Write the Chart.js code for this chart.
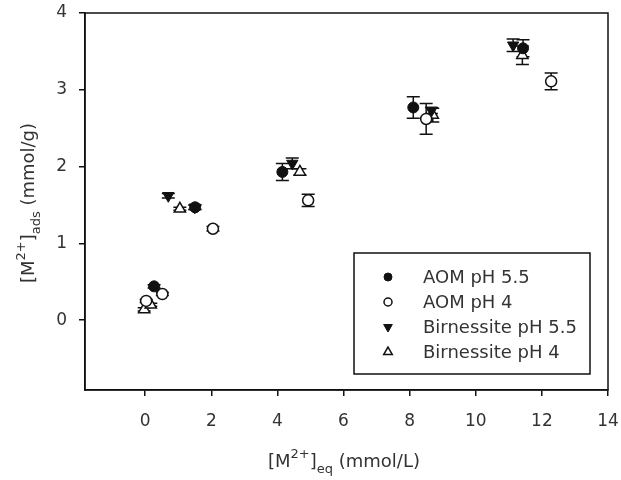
<!DOCTYPE html>
<html>
<head>
<meta charset="utf-8">
<script src="https://cdn.jsdelivr.net/npm/chart.js@4.4.1/dist/chart.umd.min.js"></script>
<style>
  html, body { margin: 0; padding: 0; background: #fff; }
  #wrap { width: 621px; height: 480px; }
</style>
</head>
<body>
<div id="wrap"><canvas id="chart" width="621" height="480"></canvas></div>
<script>
// values
const aom55X = [0.27, 1.51, 4.15, 8.11, 11.43];
const aom55Y = [0.44, 1.47, 1.93, 2.77, 3.54];
const aom55Err = [0.02, 0.03, 0.11, 0.14, 0.11];

const aom4X = [0.03, 0.52, 2.05, 4.93, 8.5, 12.28];
const aom4Y = [0.25, 0.34, 1.19, 1.56, 2.62, 3.11];
const aom4Err = [0.02, 0.02, 0.03, 0.08, 0.2, 0.11];

const bir55X = [0.7, 1.5, 4.45, 8.66, 11.13];
const bir55Y = [1.62, 1.47, 2.04, 2.73, 3.58];
const bir55Err = [0.03, 0.03, 0.07, 0.04, 0.08];

const bir4X = [-0.03, 0.17, 1.05, 4.68, 8.7, 11.41];
const bir4Y = [0.14, 0.2, 1.45, 1.93, 2.67, 3.45];
const bir4Err = [0.02, 0.02, 0.02, 0.04, 0.09, 0.12];

const xTicks = [0, 2, 4, 6, 8, 10, 12, 14];
const yTicks = [0, 1, 2, 3, 4];
const legendLabels = ["AOM pH 5.5", "AOM pH 4", "Birnessite pH 5.5", "Birnessite pH 4"];

const FONT = "'DejaVu Sans', sans-serif";
const INK = "#111";

function pts(xs, ys) { return xs.map((x, i) => ({ x: x, y: ys[i] })); }

const datasets = [
  { label: legendLabels[0], data: pts(aom55X, aom55Y), err: aom55Err, pointStyle: 'circle', pointRadius: 5.5,
    backgroundColor: INK, borderColor: INK, borderWidth: 1, pointRotation: 0 },
  { label: legendLabels[1], data: pts(aom4X, aom4Y), err: aom4Err, pointStyle: 'circle', pointRadius: 5.5,
    backgroundColor: '#fff', borderColor: INK, borderWidth: 1.5, pointRotation: 0 },
  { label: legendLabels[2], data: pts(bir55X, bir55Y), err: bir55Err, pointStyle: 'triangle', pointRadius: 6.5,
    backgroundColor: INK, borderColor: INK, borderWidth: 1, pointRotation: 180 },
  { label: legendLabels[3], data: pts(bir4X, bir4Y), err: bir4Err, pointStyle: 'triangle', pointRadius: 6.5,
    backgroundColor: '#fff', borderColor: INK, borderWidth: 1.5, pointRotation: 0 }
];

const errorBars = {
  id: 'errorBars',
  beforeDatasetsDraw(chart) {
    const ctx = chart.ctx, xs = chart.scales.x, ys = chart.scales.y;
    ctx.save();
    ctx.strokeStyle = INK; ctx.lineWidth = 1.5;
    chart.data.datasets.forEach(ds => {
      ds.data.forEach((p, i) => {
        const e = ds.err[i];
        const px = xs.getPixelForValue(p.x);
        const top = ys.getPixelForValue(p.y + e), bot = ys.getPixelForValue(p.y - e);
        ctx.beginPath();
        ctx.moveTo(px, top); ctx.lineTo(px, bot);
        ctx.moveTo(px - 6.5, top); ctx.lineTo(px + 6.5, top);
        ctx.moveTo(px - 6.5, bot); ctx.lineTo(px + 6.5, bot);
        ctx.stroke();
      });
    });
    ctx.restore();
  }
};

// text with a superscript and a subscript, e.g. [M2+]ads
function richTitle(ctx, parts, x, y) {
  let w = 0;
  parts.forEach(p => { ctx.font = p.size + "px " + FONT; w += ctx.measureText(p.t).width; });
  let cx = x - w / 2;
  parts.forEach(p => {
    ctx.font = p.size + "px " + FONT;
    ctx.fillText(p.t, cx, y + p.dy);
    cx += ctx.measureText(p.t).width;
  });
}

const decorations = {
  id: 'decorations',
  afterDraw(chart) {
    const ctx = chart.ctx, a = chart.chartArea;
    ctx.save();
    ctx.strokeStyle = INK; ctx.lineWidth = 1.5;
    ctx.strokeRect(a.left, a.top, a.right - a.left, a.bottom - a.top);

    ctx.fillStyle = "#333";
    ctx.textBaseline = 'alphabetic';
    ctx.textAlign = 'left';
    const xTitle = [
      { t: "[M", size: 18, dy: 0 }, { t: "2+", size: 13, dy: -9 }, { t: "]", size: 18, dy: 0 },
      { t: "eq", size: 13, dy: 6 }, { t: " (mmol/L)", size: 18, dy: 0 }
    ];
    richTitle(ctx, xTitle, 344, 467);

    const yTitle = [
      { t: "[M", size: 18, dy: 0 }, { t: "2+", size: 13, dy: -9 }, { t: "]", size: 18, dy: 0 },
      { t: "ads", size: 13, dy: 6 }, { t: " (mmol/g)", size: 18, dy: 0 }
    ];
    ctx.save();
    ctx.translate(34, 203);
    ctx.rotate(-Math.PI / 2);
    richTitle(ctx, yTitle, 0, 0);
    ctx.restore();

    // legend box
    const lx = 354, ly = 253, lw = 236, lh = 121;
    ctx.fillStyle = '#fff';
    ctx.fillRect(lx, ly, lw, lh);
    ctx.strokeRect(lx, ly, lw, lh);
    ctx.textBaseline = 'middle';
    chart.data.datasets.forEach((ds, i) => {
      const rowY = 277 + i * 25;
      ctx.fillStyle = ds.backgroundColor; ctx.strokeStyle = ds.borderColor;
      ctx.lineWidth = ds.borderWidth;
      Chart.helpers.drawPoint(ctx, { pointStyle: ds.pointStyle, rotation: ds.pointRotation,
        radius: ds.pointRadius - 1.5, borderWidth: ds.borderWidth }, 388, rowY);
      ctx.fillStyle = "#333";
      ctx.font = "18px " + FONT;
      ctx.fillText(ds.label, 423, rowY + 1);
    });
    ctx.restore();
  }
};

function noEdgePadding(s) {
  s.paddingLeft = 0; s.paddingRight = 0; s.paddingTop = 0; s.paddingBottom = 0;
}

new Chart(document.getElementById('chart'), {
  type: 'scatter',
  data: { datasets: datasets },
  plugins: [errorBars, decorations],
  options: {
    responsive: false,
    animation: false,
    devicePixelRatio: 1,
    layout: { padding: { left: 0, right: 13, top: 13, bottom: 0 } },
    plugins: { legend: { display: false }, tooltip: { enabled: false } },
    scales: {
      x: {
        type: 'linear', min: -1.82, max: 14,
        afterBuildTicks: s => { s.ticks = xTicks.map(v => ({ value: v })); },
        afterFit: s => { s.height = 90; noEdgePadding(s); },
        grid: { display: true, drawOnChartArea: false, drawTicks: true, tickLength: 6, color: INK, lineWidth: 1.5 },
        border: { display: true, color: INK, width: 1.5 },
        ticks: { color: '#333', font: { family: FONT, size: 17 }, padding: 15, maxRotation: 0 }
      },
      y: {
        type: 'linear', min: -0.91, max: 4,
        afterBuildTicks: s => { s.ticks = yTicks.map(v => ({ value: v })); },
        afterFit: s => { s.width = 85; noEdgePadding(s); },
        grid: { display: true, drawOnChartArea: false, drawTicks: true, tickLength: 6, color: INK, lineWidth: 1.5 },
        border: { display: true, color: INK, width: 1.5 },
        ticks: { color: '#333', font: { family: FONT, size: 17 }, padding: 12 }
      }
    }
  }
});
</script>
</body>
</html>
